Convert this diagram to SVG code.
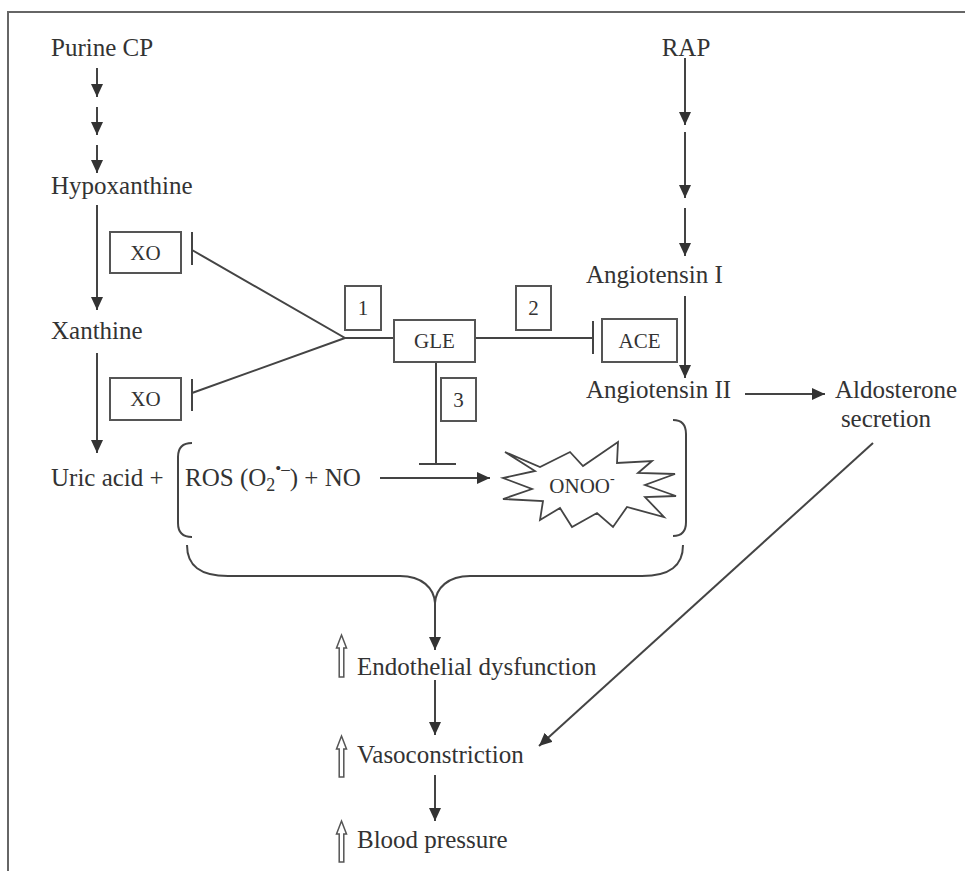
<svg xmlns="http://www.w3.org/2000/svg" width="965" height="871" viewBox="0 0 965 871">
<defs>
<marker id="ah" markerWidth="13" markerHeight="12" refX="13" refY="6" orient="auto" markerUnits="userSpaceOnUse">
<path d="M0,0 L13,6 L0,12 Z" fill="#333"/>
</marker>
<style>
text{font-family:"Liberation Serif","Times New Roman",serif;fill:#333;}
.t{font-size:25px;}
.b{font-size:21px;}
.ln{stroke:#444;stroke-width:2;fill:none;}
.ar{stroke:#444;stroke-width:2;fill:none;marker-end:url(#ah);}
.box{stroke:#555;stroke-width:2;fill:#fff;}
.up{stroke:#555;stroke-width:1.5;fill:#fff;}
</style>
</defs>
<rect width="965" height="871" fill="#fff"/>
<path d="M8,871 L8,12 L965,12" stroke="#666" stroke-width="2" fill="none"/>

<g id="connectors">
<line class="ar" x1="97" y1="68" x2="97" y2="97"/>
<line class="ar" x1="97" y1="107" x2="97" y2="135"/>
<line class="ar" x1="97" y1="145" x2="97" y2="173"/>
<line class="ar" x1="97" y1="205" x2="97" y2="310"/>
<line class="ar" x1="97" y1="353" x2="97" y2="453"/>
<line class="ar" x1="685" y1="58" x2="685" y2="125"/>
<line class="ar" x1="685" y1="132" x2="685" y2="198"/>
<line class="ar" x1="685" y1="208" x2="685" y2="256"/>
<line class="ar" x1="685" y1="296" x2="685" y2="378"/>
<line class="ar" x1="745" y1="394" x2="825" y2="394"/>
<line class="ar" x1="873" y1="443" x2="539" y2="746"/>
<line class="ar" x1="380" y1="478" x2="490" y2="478"/>
<line class="ar" x1="435" y1="603" x2="435" y2="650"/>
<line class="ar" x1="435" y1="680" x2="435" y2="735"/>
<line class="ar" x1="435" y1="775" x2="435" y2="821"/>
<polyline class="ln" points="192,250 345,338 192,393"/>
<line class="ln" x1="192" y1="232" x2="192" y2="265"/>
<line class="ln" x1="192" y1="379" x2="192" y2="411"/>
<line class="ln" x1="345" y1="338" x2="394" y2="338"/>
<line class="ln" x1="475" y1="338" x2="593" y2="338"/>
<line class="ln" x1="593" y1="321" x2="593" y2="354"/>
<line class="ln" x1="436" y1="362" x2="436" y2="464"/>
<line class="ln" x1="419" y1="464" x2="456" y2="464"/>
<path class="ln" d="M192,443 Q178,443 178,457 L178,523 Q178,537 192,537"/>
<path class="ln" d="M673,420 Q686,420 686,434 L686,522 Q686,536 673,536"/>
<path class="ln" d="M187,545 C187,566 200,576 228,576 L400,576 C422,576 434,588 435,603 C436,588 448,576 470,576 L642,576 C670,576 683,566 683,545"/>
</g>

<g id="purine"><text class="t" x="51" y="56">Purine CP</text></g>
<g id="hypoxanthine"><text class="t" x="51" y="194">Hypoxanthine</text></g>
<g id="xanthine"><text class="t" x="51" y="339">Xanthine</text></g>
<g id="uric"><text class="t" x="51" y="486">Uric acid +</text></g>
<g id="xo1"><rect class="box" x="110" y="232" width="71" height="41"/><text class="b" x="145.5" y="260" text-anchor="middle">XO</text></g>
<g id="xo2"><rect class="box" x="110" y="378" width="71" height="42"/><text class="b" x="145.5" y="406" text-anchor="middle">XO</text></g>
<g id="n1"><rect class="box" x="345" y="286" width="36" height="44"/><text class="b" x="363" y="315" text-anchor="middle">1</text></g>
<g id="n2"><rect class="box" x="516" y="286" width="35" height="44"/><text class="b" x="533.5" y="315" text-anchor="middle">2</text></g>
<g id="n3"><rect class="box" x="441" y="378" width="35" height="43"/><text class="b" x="458.5" y="407" text-anchor="middle">3</text></g>
<g id="gle"><rect class="box" x="394" y="320" width="81" height="42"/><text class="b" x="434.5" y="348" text-anchor="middle">GLE</text></g>
<g id="ace"><rect class="box" x="602" y="319" width="75" height="43"/><text class="b" x="639.5" y="348" text-anchor="middle">ACE</text></g>
<g id="rap"><text class="t" x="686" y="56" text-anchor="middle">RAP</text></g>
<g id="ang1"><text class="t" x="586" y="283">Angiotensin I</text></g>
<g id="ang2"><text class="t" x="586" y="398">Angiotensin II</text></g>
<g id="aldo"><text class="t" x="896" y="398" text-anchor="middle">Aldosterone</text><text class="t" x="886" y="427" text-anchor="middle">secretion</text></g>
<g id="ros"><text class="t" x="185" y="486">ROS (O<tspan font-size="18" dy="5">2</tspan><tspan font-size="17" dy="-17">•–</tspan><tspan dy="12">) + NO</tspan></text></g>
<g id="onoo">
<polygon points="505,452 540,467 570,452 583,466 618,442 617,463 652,461 638,473 675,474 645,485 676,496 645,497 664,517 627,507 613,527 597,513 572,527 560,508 540,520 543,501 503,499 532,489 503,478 535,471" fill="#fff" stroke="#444" stroke-width="1.8"/>
<text x="582" y="493" text-anchor="middle" font-size="21">ONOO<tspan font-size="14" dy="-10">-</tspan></text>
</g>
<g id="endo"><path class="up" d="M341.5,635 L346.5,648 L343.8,648 L343.8,677 L339.2,677 L339.2,648 L336.5,648 Z"/><text class="t" x="357" y="675">Endothelial dysfunction</text></g>
<g id="vaso"><path class="up" d="M341.5,736 L346.5,749 L343.8,749 L343.8,777 L339.2,777 L339.2,749 L336.5,749 Z"/><text class="t" x="357" y="763">Vasoconstriction</text></g>
<g id="bp"><path class="up" d="M341.5,821 L346.5,834 L343.8,834 L343.8,862 L339.2,862 L339.2,834 L336.5,834 Z"/><text class="t" x="357" y="848">Blood pressure</text></g>
</svg>
